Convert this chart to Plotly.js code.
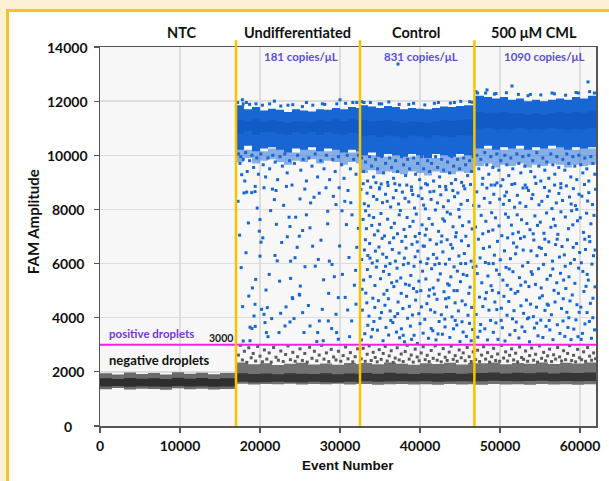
<!DOCTYPE html>
<html><head><meta charset="utf-8">
<script src="https://cdn.plot.ly/plotly-3.0.1.min.js"></script>
<style>
html,body{margin:0;padding:0;background:#fdf0d5;width:609px;height:481px;overflow:hidden}
#frame{position:absolute;left:6px;top:9px;width:603px;height:472px;background:#fff;border-left:3px solid #f6c420;border-top:3px solid #f6c420;box-sizing:border-box}
#chart{position:absolute;left:0;top:0;width:609px;height:481px}
</style></head><body>
<div id="frame"></div><div id="chart"></div>
<script>
// ---------- data ----------
const sampleNames = ['NTC','Undifferentiated','Control','500 μM CML'];
const concLabels = ['181 copies/μL','831 copies/μL','1090 copies/μL'];
const segmentBounds = [17000, 32500, 46800];
const threshold = 3000;
const xTicks = [0,10000,20000,30000,40000,50000,60000];
const yTicks = [0,2000,4000,6000,8000,10000,12000,14000];

// dense positive-droplet bands (event number, upper / lower amplitude)
const undPosX  = [17050,18000,19000,20000,21000,22000,23000,24000,25000,26000,27000,28000,29000,30000,31000,32000,32450];
const undPosHi = [11850,11700,11780,11650,11720,11680,11600,11700,11650,11620,11700,11680,11750,11700,11780,11750,11800];
const undPosLo = [10300,10200,10350,10150,10250,10300,10200,10100,10250,10200,10300,10150,10250,10200,10100,10200,10150];
const undCoreHi= [11300,11250,11330,11230,11300,11250,11200,11270,11250,11230,11300,11250,11330,11270,11350,11300,11330];
const undCoreLo= [10850,10800,10900,10750,10850,10870,10800,10750,10850,10800,10870,10750,10850,10800,10750,10830,10800];
const undFringe= [9850,9750,9900,9700,9800,9850,9750,9650,9800,9750,9850,9700,9800,9750,9650,9750,9700];

const ctlPosX  = [32550,33500,34500,35500,36500,37500,38500,39500,40500,41500,42500,43500,44500,45500,46750];
const ctlPosHi = [11850,11800,11750,11820,11780,11700,11750,11720,11700,11750,11800,11780,11820,11850,11800];
const ctlPosLo = [10050,10000,10100,9950,10050,10000,9950,10050,10000,9900,10050,10000,9950,10050,10000];
const ctlCoreHi= [11300,11250,11270,11300,11250,11200,11250,11230,11200,11250,11300,11270,11300,11330,11300];
const ctlCoreLo= [10750,10700,10750,10670,10730,10700,10650,10730,10700,10650,10750,10700,10670,10750,10730];
const ctlFringe= [9400,9350,9450,9300,9400,9350,9300,9400,9350,9250,9400,9350,9300,9400,9350];

const cmlPosX  = [46850,48000,49000,50000,51000,52000,53000,54000,55000,56000,57000,58000,59000,60000,61000,62000];
const cmlPosHi = [12200,12150,12100,12150,12050,12100,12000,12050,12000,12050,12100,12050,12150,12100,12200,12150];
const cmlPosLo = [10300,10250,10350,10200,10300,10250,10350,10200,10300,10250,10350,10300,10200,10300,10250,10300];
const cmlCoreHi= [11600,11550,11570,11600,11530,11550,11500,11550,11500,11550,11600,11550,11600,11570,11630,11600];
const cmlCoreLo= [11000,10950,11000,10930,10970,10950,11000,10930,10970,10950,11000,10970,10930,10970,10950,11000];
const cmlFringe= [9650,9600,9700,9550,9650,9600,9700,9550,9650,9600,9700,9650,9550,9650,9600,9650];

// dense negative-droplet bands
const ntcNegX  = [0,1500,3000,4500,6000,7500,9000,10500,12000,13500,15000,16900];
const ntcNegHi = [1950,1900,1980,1920,1960,1900,1990,1930,1970,1910,1960,1940];
const ntcNegLo = [1380,1360,1400,1350,1380,1370,1340,1390,1360,1380,1350,1370];
const ntcCoreHi= [1760,1740,1770,1750,1760,1740,1780,1750,1770,1740,1760,1750];
const ntcCoreLo= [1470,1460,1480,1450,1470,1460,1450,1480,1460,1470,1450,1460];

const undNegX  = [17050,18500,20000,21500,23000,24500,26000,27500,29000,30500,32000,32450];
const undNegHi = [2350,2280,2320,2250,2300,2340,2270,2310,2260,2330,2290,2300];
const undNegLo = [1540,1560,1530,1550,1540,1560,1530,1550,1540,1560,1530,1550];
const undNCoreHi=[1950,1920,1940,1910,1950,1930,1920,1950,1910,1940,1930,1940];
const undNCoreLo=[1620,1630,1610,1620,1630,1620,1610,1630,1620,1610,1630,1620];

const ctlNegX  = [32550,34000,35500,37000,38500,40000,41500,43000,44500,46000,46750];
const ctlNegHi = [2330,2280,2350,2300,2260,2320,2290,2340,2270,2330,2300];
const ctlNegLo = [1530,1550,1520,1540,1550,1530,1540,1520,1550,1530,1540];
const ctlNCoreHi=[1960,1930,1970,1940,1920,1950,1940,1960,1930,1950,1940];
const ctlNCoreLo=[1640,1650,1630,1640,1650,1640,1650,1630,1640,1650,1640];

const cmlNegX  = [46850,48500,50000,51500,53000,54500,56000,57500,59000,60500,62000];
const cmlNegHi = [2320,2350,2280,2330,2300,2350,2290,2340,2310,2350,2300];
const cmlNegLo = [1540,1520,1550,1530,1540,1520,1550,1530,1540,1520,1540];
const cmlNCoreHi=[1960,1980,1940,1970,1950,1980,1940,1970,1960,1980,1950];
const cmlNCoreLo=[1660,1650,1670,1660,1650,1660,1670,1650,1660,1650,1660];

// individual positive droplets [event, amplitude]
const undPts = [[17710,9284],[18000,8610],[18330,8640],[18960,8620],[19380,8660],[20000,7626],[19920,7196],[20125,6790],[20000,6274],[19460,5416],[20750,5022],[21330,7957],[21800,8363],[21875,6300],[22710,6779],[23420,6989],[23630,7713],[24460,7713],[23750,7368],[23830,6090],[23830,5452],[24040,4741],[24375,6215],[25000,8388],[24920,7012],[25040,5170],[24960,4837],[25330,7220],[25625,5883],[26250,7320],[26330,8240],[26580,6642],[26910,5905],[27290,6152],[27625,6864],[28460,7932],[28460,7468],[28580,4900],[28670,6090],[29000,5968],[29170,8484],[29290,5515],[29500,8179],[29790,4741],[30600,8300],[30800,7440],[31125,6226],
[17830,4410],[19375,4495],[19250,4064],[18750,3650],[19000,3600],[19400,3680],[20200,4310],[20500,4126],[20625,3820],[20920,4373],[21460,3968],[20800,3450],[21000,3300],[22580,4163],[22375,3452],[23125,3695],[23750,3843],[24080,4705],[24250,3968],[24920,4863],[25330,4188],[25500,3452],[26250,3695],[27420,3880],[27210,3452],[27790,4310],[28540,3880],[28960,3600],[29580,3452],[29500,4126],[29790,3205],[27900,3150],[27100,3120],[17900,3140],[18750,3150],[30960,4285],[31460,3880],[31800,5200],[32100,6600],[31500,7800],[30300,5600],[32000,4500],[31200,3300],
[17450,7050],[17650,5850],[18250,6400],[18550,7500],[19050,5100],[19650,8050],[20350,6950],[21150,5600],[21550,8750],[22050,7450],[22450,5350],[22950,8150],[23250,4400],[24650,6600],[25800,7800],[26050,4450],[26750,8450],[27950,5400],[28250,8800],[29950,6650],[30250,7950],[30650,4750],[31350,8250],[31950,5750],[32300,7300],[17250,8300],[18600,4800],[22150,6100],
[17300,10050],[17500,9700],[17600,9950],[17900,9850],[18200,10100],[18400,9400],[18700,9800],[19000,10000],[19200,9550],[19600,9900],[19800,9300],[20100,10050],[20400,9650],[20700,9200],[21000,9900],[21200,9500],[21600,10000],[21900,9750],[22200,9100],[22500,9950],[22800,9600],[23100,10050],[23400,9350],[23700,9800],[24000,8900],[24300,9700],[24700,10000],[25100,9450],[25400,9850],[25800,9050],[26100,9900],[26500,9600],[26900,10050],[27200,9200],[27600,9800],[28000,9500],[28300,10000],[28700,9100],[29100,9850],[29400,9400],[29800,9950],[30200,9650],[30500,9150],[30900,10000],[31300,9500],[31700,9850],[32000,9300],[32300,10000],[18100,9050],[19400,8850],[20500,8800],[22000,8700],[23300,8850],[25600,8750],[27400,8600],[29900,8800],[31000,8700],
[17800,12050],[18300,11950],[21800,12000],[25800,11950],[30000,12050],[19500,11900],[23500,11850],[27800,11900],[31600,11950],
[17200,11950],[17900,11900],[18700,11880],[20300,11850],[21200,11900],[22600,11820],[24100,11870],[25300,11800],[26600,11850],[28100,11880],[29600,11900],[30700,11920],[32100,11950]];

const ctlPts = [[32620,8740],[32710,6150],[32800,4280],[32880,7630],[32950,5390],[33040,8210],[33100,3410],[33170,6880],[33230,4910],[33300,7290],[33380,8600],[33420,5780],[33470,3720],[33050,6500],[32680,3180],[33350,4550],[32900,8950],[33200,7950],[32750,5050],[33480,6300],
[33560,8130],[33620,4060],[33700,6740],[33780,5520],[33840,8820],[33900,3290],[33970,7410],[34030,6020],[34110,4720],[34180,8480],[34240,3860],[34300,7060],[34370,5190],[34430,6460],[34490,8990],[33650,7780],[34060,3570],[34350,4380],[33750,6200],[34200,7700],
[34550,5870],[34610,8370],[34680,3540],[34740,7210],[34800,4630],[34870,6610],[34930,8760],[35000,3980],[35060,5440],[35120,7850],[35190,4190],[35260,6930],[35320,8250],[35380,3150],[35440,5710],[35490,4870],[34650,6100],[35150,8940],[34950,7450],[35350,6350],
[35560,7020],[35620,4460],[35690,8560],[35750,3640],[35820,6230],[35880,5010],[35950,7640],[36010,8880],[36080,3360],[36140,5600],[36200,6770],[36270,4250],[36330,8090],[36400,7330],[36460,5290],[35700,5900],[36050,4700],[36350,3900],[35900,8300],[36250,6000],
[36540,6520],[36600,3820],[36670,8430],[36730,5150],[36800,7490],[36860,4040],[36930,6090],[37000,8700],[37060,3470],[37130,5830],[37190,7100],[37260,4580],[37320,8200],[37390,6390],[37450,3260],[36700,6950],[37100,5350],[37400,7800],[36850,8950],[37200,4150],
[37540,7960],[37600,5470],[37670,3590],[37730,6820],[37800,8640],[37860,4340],[37930,5960],[38000,7260],[38060,3110],[38130,8410],[38190,5240],[38260,6570],[38320,4790],[38390,7700],[38450,3980],[37650,4900],[38050,6200],[38350,8900],[37900,3350],[38200,7000],
[38540,6010],[38600,8280],[38670,4420],[38730,7370],[38800,3690],[38860,5560],[38930,8830],[39000,6710],[39060,4100],[39130,7560],[39190,5080],[39260,3350],[39320,8050],[39390,6250],[39450,4650],[38650,5200],[39100,8550],[39400,7000],[38950,3200],[39250,5900],
[39540,7830],[39600,4960],[39670,3050],[39730,6460],[39800,8500],[39860,5350],[39930,7110],[40000,3780],[40060,6060],[40130,8790],[40190,4400],[40260,7430],[40320,5720],[40390,3430],[40450,8160],[39650,6800],[40100,5000],[40400,6650],[39850,4150],[40250,8400],
[40540,6640],[40600,3940],[40670,8020],[40730,5430],[40800,7270],[40860,4520],[40930,8910],[41000,6180],[41060,3240],[41130,7660],[41190,5030],[41260,6880],[41320,4290],[41390,8370],[41450,5810],[40650,7050],[41100,4800],[41400,3600],[40850,6000],[41250,8650],
[41540,7450],[41600,3520],[41670,6340],[41730,8670],[41800,4870],[41860,5960],[41930,7980],[42000,3180],[42060,6720],[42130,4680],[42190,8240],[42260,5390],[42320,7190],[42390,3860],[42450,8850],[41650,5100],[42100,6200],[42400,6000],[41850,4200],[42250,3400],
[42540,5620],[42600,8540],[42670,4110],[42730,7020],[42800,3390],[42860,6430],[42930,8100],[43000,4960],[43060,7570],[43130,3660],[43190,5980],[43260,8730],[43320,4400],[43390,6880],[43450,5250],[42650,6800],[43100,3950],[43400,7900],[42850,7650],[43200,4700],
[43540,8320],[43600,4740],[43670,6160],[43730,3270],[43800,7830],[43860,5510],[43930,8960],[44000,4030],[44060,6570],[44130,7360],[44190,3590],[44260,5880],[44320,8470],[44390,4550],[44450,6990],[43650,5200],[44100,8700],[44400,3900],[43850,6700],[44250,5000],
[44540,7140],[44600,3730],[44670,5720],[44730,8610],[44800,4250],[44860,6280],[44930,7720],[45000,3120],[45060,5330],[45130,8190],[45190,6840],[45260,4620],[45320,7400],[45390,3470],[45450,8870],[44650,5000],[45100,6000],[45400,5600],[44850,8000],[45250,3850],
[45540,6370],[45600,8760],[45670,4480],[45730,7010],[45800,3310],[45860,5560],[45930,8330],[46000,4090],[46060,6660],[46130,7540],[46190,3790],[46260,5130],[46320,8920],[46390,6090],[46450,4380],[46520,7280],[46580,3560],[46650,5860],[46700,8150],[45700,6000],[46100,4900],[46400,3150],
[32700,9900],[32950,9400],[33200,9750],[33450,9050],[33700,9950],[33950,9600],[34200,9200],[34450,9850],[34700,9500],[34950,8800],[35200,9950],[35450,9350],[35700,9700],[35950,9000],[36200,9900],[36450,9550],[36700,9150],[36950,9800],[37200,9400],[37450,8900],[37700,9950],[37950,9650],[38200,9250],[38450,9850],[38700,9500],[38950,8700],[39200,9900],[39450,9300],[39700,9700],[39950,9100],[40200,9950],[40450,9500],[40700,8950],[40950,9800],[41200,9400],[41450,9700],[41700,9050],[41950,9950],[42200,9550],[42450,9200],[42700,9850],[42950,9450],[43200,8850],[43450,9750],[43700,9350],[43950,9950],[44200,9600],[44450,9100],[44700,9850],[44950,9500],[45200,9000],[45450,9900],[45700,9650],[45950,9250],[46200,9800],[46450,9400],[46650,9950],
[37250,13370],[33000,11950],[35200,11900],[38600,11880],[41800,11920],[44300,11950],[46200,11980],
[32700,11980],[33800,11950],[34900,11900],[36100,11970],[37400,11880],[39200,11920],[40600,11860],[42300,11950],[43800,11930],[45100,11990],[46500,11960]];

const cmlPts = [[46950,7350],[47020,4120],[47090,8650],[47160,5630],[47230,3280],[47300,6900],[47370,8120],[47440,4760],[47510,6210],[47580,3750],[47650,7780],[47720,5290],[47790,8930],[47860,4410],[47930,6560],[47000,5900],[47500,3500],[47850,7100],
[48040,8410],[48100,3590],[48170,6040],[48230,7560],[48300,4930],[48360,8790],[48430,3180],[48490,5540],[48560,7190],[48620,4280],[48690,6620],[48750,8250],[48820,3900],[48880,5180],[48950,7880],[48150,4700],[48600,6000],[48900,8900],
[49040,5010],[49100,7240],[49170,3460],[49230,8560],[49300,6310],[49360,4580],[49430,7690],[49490,3810],[49560,5760],[49620,8980],[49690,6820],[49750,3200],[49820,4920],[49880,7390],[49950,8380],[49150,6000],[49600,4300],[49900,5600],
[50040,6140],[50100,8870],[50170,4350],[50230,7030],[50300,3630],[50360,5390],[50430,8190],[50490,4790],[50560,6470],[50620,3140],[50690,7830],[50750,5860],[50820,8640],[50880,4090],[50950,6950],[50150,3900],[50600,8500],[50900,5200],
[51040,7710],[51100,4600],[51170,8330],[51230,3370],[51300,6180],[51360,5050],[51430,7420],[51490,8920],[51560,3960],[51620,5700],[51690,6760],[51750,4260],[51820,8080],[51880,3530],[51950,6360],[51150,5800],[51600,7100],[51900,4900],
[52040,3840],[52100,6610],[52170,8520],[52230,4970],[52300,7160],[52360,3250],[52430,5480],[52490,8240],[52560,6930],[52620,4440],[52690,7620],[52750,3660],[52820,5910],[52880,8790],[52950,4160],[52150,7800],[52600,5200],[52900,6500],
[53040,6990],[53100,3490],[53170,5320],[53230,8110],[53300,4650],[53360,7480],[53430,3960],[53490,6040],[53560,8700],[53620,5150],[53690,3110],[53750,7250],[53820,4500],[53880,6470],[53950,8400],[53150,8900],[53600,4000],[53900,5700],
[54040,5600],[54100,8550],[54170,4040],[54230,6870],[54300,3620],[54360,7760],[54430,5230],[54490,8960],[54560,4390],[54620,6290],[54690,7410],[54750,3330],[54820,5810],[54880,8170],[54950,4730],[54150,7100],[54600,3800],[54900,6600],
[55040,7530],[55100,3910],[55170,6560],[55230,8300],[55300,4810],[55360,3270],[55430,5970],[55490,7120],[55560,8810],[55620,4270],[55690,6330],[55750,3680],[55820,7870],[55880,5420],[55950,8480],[55150,5100],[55600,6900],[55900,4500],
[56040,4460],[56100,6800],[56170,8680],[56230,3550],[56300,5560],[56360,7340],[56430,4110],[56490,8030],[56560,6090],[56620,3190],[56690,7640],[56750,5010],[56820,8900],[56880,4580],[56950,6700],[56150,3900],[56600,5800],[56900,7400],
[57040,8240],[57100,5290],[57170,3740],[57230,7080],[57300,4900],[57360,8590],[57430,6240],[57490,3420],[57560,5640],[57620,7910],[57690,4340],[57750,6630],[57820,8330],[57880,3880],[57950,5390],[57150,6900],[57600,8800],[57900,4700],
[58040,6320],[58100,3310],[58170,7720],[58230,5080],[58300,8870],[58360,4200],[58430,6880],[58490,3640],[58560,7290],[58620,5510],[58690,8460],[58750,4620],[58820,6010],[58880,3190],[58950,7950],[58150,5900],[58600,4000],[58900,8200],
[59040,4840],[59100,7430],[59170,8770],[59230,3580],[59300,6150],[59360,5270],[59430,8140],[59490,3920],[59560,6740],[59620,4480],[59690,7580],[59750,3300],[59820,5830],[59880,8560],[59950,6410],[59150,6600],[59600,8000],[59900,4200],
[60040,7690],[60100,4390],[60170,6030],[60230,8490],[60300,3420],[60360,5710],[60430,7150],[60490,4970],[60560,8920],[60620,3770],[60690,6520],[60750,5160],[60820,7860],[60880,4190],[60950,8310],[60150,3200],[60600,6900],[60900,5600],
[61040,5390],[61100,8620],[61170,3860],[61230,6810],[61300,4530],[61360,7470],[61430,3240],[61490,5980],[61560,8180],[61620,4720],[61690,6290],[61750,7780],[61820,3550],[61880,5140],[61950,8750],[61150,7000],[61600,4000],[61900,6500],
[47100,10000],[47350,9500],[47600,9850],[47850,9150],[48100,10100],[48350,9650],[48600,9300],[48850,9950],[49100,9550],[49350,8900],[49600,10050],[49850,9450],[50100,9800],[50350,9100],[50600,10000],[50850,9650],[51100,9250],[51350,9900],[51600,9500],[51850,8950],[52100,10050],[52350,9700],[52600,9350],[52850,9950],[53100,9600],[53350,8800],[53600,10000],[53850,9400],[54100,9800],[54350,9200],[54600,10100],[54850,9600],[55100,9050],[55350,9900],[55600,9450],[55850,9750],[56100,9150],[56350,10050],[56600,9650],[56850,9300],[57100,9950],[57350,9550],[57600,8950],[57850,9850],[58100,9450],[58350,10050],[58600,9700],[58850,9200],[59100,9950],[59350,9600],[59600,9100],[59850,10000],[60100,9650],[60350,9350],[60600,9900],[60850,9500],[61100,9050],[61350,9950],[61600,9700],[61850,9300],
[48375,12415],[51500,12560],[61000,12710],[47200,12300],[49500,12280],[53800,12250],[56500,12300],[59500,12320],
[47000,12350],[48200,12300],[49300,12260],[50800,12310],[52300,12250],[53500,12200],[55100,12230],[56800,12270],[58200,12220],[59800,12300],[61200,12350],[61800,12300]];

// individual negative droplets above the band [event, amplitude]
const grayPts = [[17300,2620],[17550,2980],[17800,2440],[18050,2760],[18350,2350],[18600,2890],[18900,2520],[19150,2680],[19450,2400],[19700,2940],[20000,2580],[20300,2370],[20550,2810],[20850,2470],[21150,2700],[21400,2360],[21700,2900],[22000,2540],[22300,2430],[22600,2770],[22900,2380],[23200,2640],[23500,2960],[23800,2450],[24100,2720],[24400,2390],[24700,2560],[25000,2850],[25300,2420],[25600,2680],[25900,2360],[26200,2910],[26500,2500],[26800,2760],[27100,2410],[27400,2620],[27700,2980],[28000,2470],[28300,2700],[28600,2380],[28900,2830],[29200,2550],[29500,2440],[29800,2760],[30100,2390],[30400,2600],[30700,2920],[31000,2480],[31300,2710],[31600,2370],[31900,2560],[32200,2850],
[32650,2480],[32900,2870],[33150,2390],[33400,2650],[33650,2960],[33900,2420],[34150,2720],[34400,2530],[34650,2370],[34900,2820],[35150,2460],[35400,2680],[35650,2940],[35900,2400],[36150,2590],[36400,2780],[36650,2350],[36900,2510],[37150,2890],[37400,2440],[37650,2660],[37900,2380],[38150,2750],[38400,2980],[38650,2470],[38900,2620],[39150,2360],[39400,2840],[39650,2550],[39900,2410],[40150,2700],[40400,2930],[40650,2450],[40900,2610],[41150,2380],[41400,2790],[41650,2500],[41900,2960],[42150,2430],[42400,2650],[42650,2370],[42900,2860],[43150,2540],[43400,2420],[43650,2730],[43900,2950],[44150,2460],[44400,2600],[44650,2390],[44900,2810],[45150,2520],[45400,2700],[45650,2410],[45900,2900],[46150,2560],[46400,2380],[46650,2740],
[46950,2450],[47200,2800],[47450,2380],[47700,2620],[47950,2930],[48200,2470],[48450,2710],[48700,2360],[48950,2560],[49200,2870],[49450,2420],[49700,2660],[49950,2390],[50200,2980],[50450,2510],[50700,2740],[50950,2400],[51200,2610],[51450,2850],[51700,2440],[51950,2690],[52200,2370],[52450,2920],[52700,2530],[52950,2460],[53200,2770],[53450,2390],[53700,2600],[53950,2880],[54200,2430],[54450,2650],[54700,2360],[54950,2960],[55200,2500],[55450,2720],[55700,2410],[55950,2590],[56200,2840],[56450,2380],[56700,2630],[56950,2470],[57200,2900],[57450,2550],[57700,2400],[57950,2780],[58200,2450],[58450,2680],[58700,2970],[58950,2420],[59200,2610],[59450,2370],[59700,2830],[59950,2520],[60200,2450],[60450,2740],[60700,2390],[60950,2900],[61200,2580],[61450,2430],[61700,2700],[61950,2480]];

// ---------- drawing ----------
const BLUE = '#1865d4', BLUE_CORE = '#105bc6', HAZE = 'rgba(24,101,212,0.5)';
function band(xs, hi, lo, color){
  return {x: xs.concat(xs.slice().reverse()), y: hi.concat(lo.slice().reverse()),
    mode:'lines', fill:'toself', fillcolor:color, line:{width:0, shape:'hv'}, hoverinfo:'skip', showlegend:false};
}
function pts(arr, color, size){
  return {x: arr.map(p=>p[0]), y: arr.map(p=>p[1]), mode:'markers',
    marker:{symbol:'square', size:size, color:color, line:{width:0}}, hoverinfo:'skip', showlegend:false};
}
const traces = [
  band(undPosX, undPosLo, undFringe, HAZE), band(ctlPosX, ctlPosLo, ctlFringe, HAZE), band(cmlPosX, cmlPosLo, cmlFringe, HAZE),
  band(undPosX, undPosHi, undPosLo, BLUE), band(undPosX, undCoreHi, undCoreLo, BLUE_CORE),
  band(ctlPosX, ctlPosHi, ctlPosLo, BLUE), band(ctlPosX, ctlCoreHi, ctlCoreLo, BLUE_CORE),
  band(cmlPosX, cmlPosHi, cmlPosLo, BLUE), band(cmlPosX, cmlCoreHi, cmlCoreLo, BLUE_CORE),
  band(ntcNegX, ntcNegHi, ntcNegLo, '#6a6a6a'), band(ntcNegX, ntcCoreHi, ntcCoreLo, '#2e2e2e'),
  band(undNegX, undNegHi, undNegLo, '#727272'), band(undNegX, undNCoreHi, undNCoreLo, '#363636'),
  band(ctlNegX, ctlNegHi, ctlNegLo, '#727272'), band(ctlNegX, ctlNCoreHi, ctlNCoreLo, '#363636'),
  band(cmlNegX, cmlNegHi, cmlNegLo, '#727272'), band(cmlNegX, cmlNCoreHi, cmlNCoreLo, '#363636'),
  pts(grayPts, '#5a5a5a', 3),
  pts(undPts, BLUE, 3), pts(ctlPts, BLUE, 3), pts(cmlPts, BLUE, 3)
];

const F = 'Lato, "Open Sans", sans-serif';
const annotations = [];
const nameX = [10300, 24700, 39500, 54300];
sampleNames.forEach((t,i)=>annotations.push({text:'<b>'+t+'</b>', x:nameX[i], xref:'x', y:1.037, yref:'paper',
  showarrow:false, xanchor:'center', yanchor:'middle', font:{family:F, size:14.5, color:'#111'}}));
const concX = [25125, 40125, 55500];
concLabels.forEach((t,i)=>annotations.push({text:'<b>'+t+'</b>', x:concX[i], xref:'x', y:0.976, yref:'paper',
  showarrow:false, xanchor:'center', yanchor:'middle', font:{family:F, size:11.5, color:'#5a50d2'}}));
yTicks.forEach(v=>annotations.push({text:'<b>'+v+'</b>', x:-0.0655, xref:'paper', y:v, yref:'y',
  showarrow:false, xanchor:'center', yanchor:'middle', font:{family:F, size:14, color:'#111'}}));
annotations.push({text:'<b>positive droplets</b>', x:875, xref:'x', y:3426, yref:'y', showarrow:false,
  xanchor:'left', yanchor:'middle', font:{family:F, size:11.5, color:'#7438d0'}});
annotations.push({text:'<b>'+threshold+'</b>', x:15125, xref:'x', y:3240, yref:'y', showarrow:false,
  xanchor:'center', yanchor:'middle', font:{family:F, size:10.5, color:'#222'}});
annotations.push({text:'<b>negative droplets</b>', x:875, xref:'x', y:2431, yref:'y', showarrow:false,
  xanchor:'left', yanchor:'middle', font:{family:F, size:13, color:'#111'}});
annotations.push({text:'<b>FAM Amplitude</b>', x:-0.135, xref:'paper', y:0.538, yref:'paper', textangle:-90,
  showarrow:false, xanchor:'center', yanchor:'middle', font:{family:F, size:15, color:'#111'}});
annotations.push({text:'<b>Event Number</b>', x:0.5, xref:'paper', y:-0.103, yref:'paper',
  showarrow:false, xanchor:'center', yanchor:'middle', font:{family:'"Liberation Sans", Arial, sans-serif', size:13.5, color:'#111'}});

const shapes = [{type:'line', xref:'paper', x0:0, x1:1, yref:'y', y0:threshold, y1:threshold,
  line:{color:'#f81ee8', width:2}}];
segmentBounds.forEach(b=>shapes.push({type:'line', xref:'x', x0:b, x1:b, yref:'paper', y0:0, y1:1.018,
  line:{color:'#f7c400', width:2.5}}));

const layout = {
  width:609, height:481, margin:{l:100, r:13, t:47, b:55},
  paper_bgcolor:'rgba(0,0,0,0)', plot_bgcolor:'#f7f7f7', showlegend:false,
  xaxis:{range:[0,62000], tickvals:xTicks, ticktext:xTicks.map(v=>'<b>'+v+'</b>'),
    showgrid:true, gridcolor:'#dddddd', gridwidth:1.5, zeroline:false,
    showline:true, linecolor:'#555', linewidth:1.5, mirror:true,
    ticks:'outside', ticklen:5, tickcolor:'#555', tickwidth:1.2, ticklabelstandoff:2,
    tickfont:{family:F, size:14, color:'#111'}},
  yaxis:{range:[0,14000], tickvals:yTicks, showticklabels:false,
    showgrid:true, gridcolor:'#dddddd', gridwidth:1.5, zeroline:false,
    showline:true, linecolor:'#555', linewidth:1.5, mirror:true,
    ticks:'outside', ticklen:5, tickcolor:'#555', tickwidth:1.2},
  annotations:annotations, shapes:shapes
};
Plotly.newPlot('chart', traces, layout, {staticPlot:true, displayModeBar:false});
</script></body></html>
